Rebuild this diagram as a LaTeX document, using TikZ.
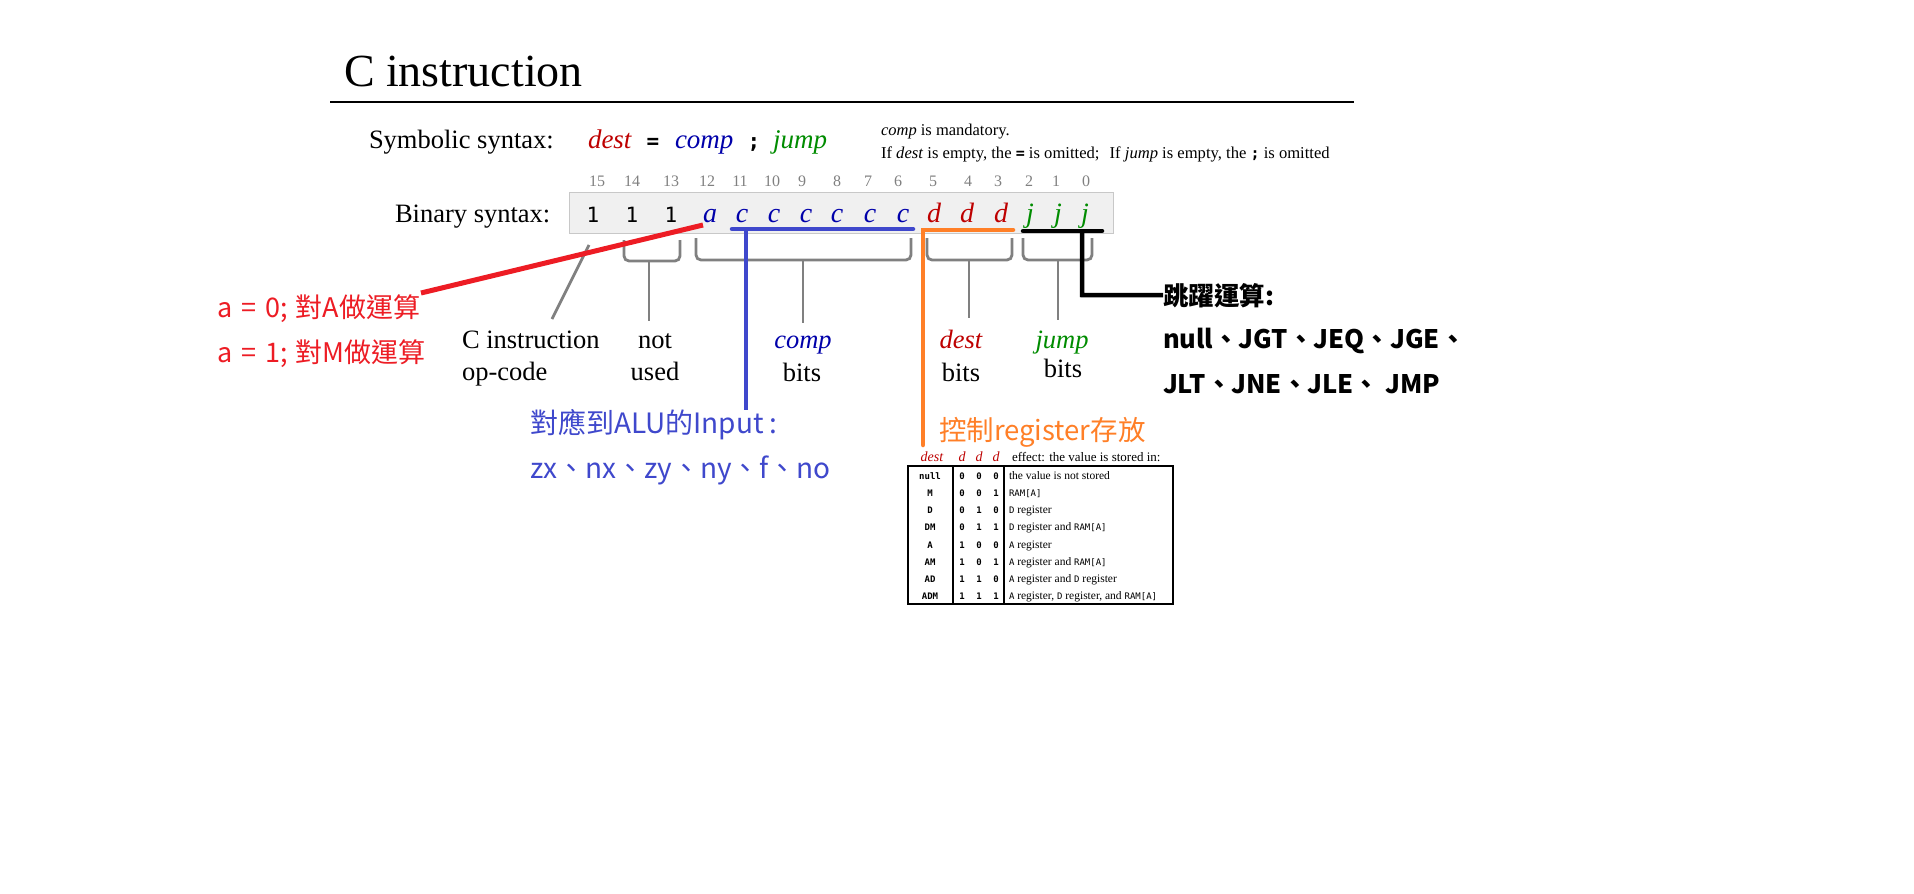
\documentclass[tikz,border=0pt]{standalone}
\usepackage{fontspec}
\setmainfont{Liberation Serif}
\setmonofont{DejaVu Sans Mono}
\newfontfamily\cjk{Noto Sans CJK TC}
\newcommand\myfs[1]{\fontsize{#1}{#1}\selectfont}
\newcommand\tm[1]{{\ttfamily\myfs{9}#1}}
\definecolor{destred}{RGB}{190,0,0}
\definecolor{compblue}{RGB}{0,0,170}
\definecolor{jumpgreen}{RGB}{0,140,0}
\definecolor{bitgray}{RGB}{128,128,128}
\definecolor{brgray}{RGB}{128,128,128}
\definecolor{boxfill}{RGB}{240,240,240}
\definecolor{boxborder}{RGB}{200,200,200}
\definecolor{linered}{RGB}{237,28,36}
\definecolor{lineblue}{RGB}{63,72,204}
\definecolor{lineorange}{RGB}{255,127,39}
\newcommand\tabrow[6]{%
  \pgfmathsetmacro\ry{466+17.25*#1+13}%
  \node[tmono] (m#1) at (930,\ry) {#2};
  \node[tmono] (ba#1) at (962,\ry) {#3};
  \node[tmono] (bb#1) at (979,\ry) {#4};
  \node[tmono] (bc#1) at (996,\ry) {#5};
  \node[teff] (e#1) at (1009,\ry) {#6};
}
\begin{document}
\begin{tikzpicture}[x=1pt,y=-1pt,
  lbl/.style={inner sep=0pt, outer sep=0pt},
  bitnum/.style={lbl, anchor=base, text=bitgray, font=\myfs{16}},
  bitone/.style={lbl, anchor=base, font=\ttfamily\myfs{21}},
  bitit/.style={lbl, anchor=base, font=\itshape\myfs{28}},
  serif/.style={lbl, font=\myfs{26.5}},
  brk/.style={draw=brgray, line width=2.8pt, rounded corners=5pt},
  stem/.style={draw=brgray, line width=2.8pt},
  cjkred/.style={lbl, anchor=base west, text=linered, font=\cjk\myfs{27}},
  cjkblue/.style={lbl, anchor=base west, text=lineblue, font=\cjk\myfs{28}},
  cjkblack/.style={lbl, anchor=base west, font=\cjk\bfseries\myfs{25.5}},
  tmono/.style={lbl, anchor=base, font=\ttfamily\bfseries\myfs{9}},
  teff/.style={lbl, anchor=base west, font=\myfs{11.5}},
  thead/.style={lbl, anchor=base, text=destred, font=\itshape\myfs{14}}
]
\path[use as bounding box, fill=white] (0,0) rectangle (1914,894);

% title
\node[lbl, anchor=base west, font=\myfs{46}] (title) at (344,86) {C instruction};
\coordinate (ruleL) at (330,102);
\coordinate (ruleR) at (1354,102);
\draw[line width=2.5pt] (ruleL) -- (ruleR);

% symbolic syntax
\node[serif, anchor=base west] (sym) at (369,148) {Symbolic syntax:};
\node[serif, anchor=base west, font=\itshape\myfs{27}, text=destred] (sdest) at (588,148) {dest};
\node[lbl, anchor=base, font=\ttfamily\bfseries\myfs{21}] (seq) at (653,148) {=};
\node[serif, anchor=base west, font=\itshape\myfs{27}, text=compblue] (scomp) at (675,148) {comp};
\node[lbl, anchor=base, font=\ttfamily\bfseries\myfs{21}] (ssemi) at (754,148) {;};
\node[serif, anchor=base west, font=\itshape\myfs{27}, text=jumpgreen] (sjump) at (773,148) {jump};

\node[lbl, anchor=base west, font=\myfs{16.5}] (note1) at (881,135) {\textit{comp} is mandatory.};
\node[lbl, anchor=base west, font=\myfs{16.6}] (note2) at (881,158) {If \textit{dest} is empty, the {\ttfamily\bfseries\myfs{15}=} is omitted;\hspace{6pt} If \textit{jump} is empty, the {\ttfamily\bfseries\myfs{15};} is omitted};

% binary syntax
\node[serif, anchor=base west] (bin) at (395,222) {Binary syntax:};
\node[draw=boxborder, fill=boxfill, line width=1.2pt, minimum width=544pt, minimum height=41pt, anchor=north west, inner sep=0pt] (box) at (569,192) {};

\foreach \n/\xx in {15/597,14/632,13/671,12/707,11/740,10/772,9/802,8/837,7/868,6/898,5/933,4/968,3/998,2/1029,1/1056,0/1086}
  \node[bitnum] (n\n) at (\xx,186) {\n};

\foreach \i/\xx in {1/593,2/632,3/671}
  \node[bitone] (one\i) at (\xx,222) {1};
\node[bitit, text=compblue] (ba) at (710,222) {a};
\foreach \i/\xx in {1/742,2/774,3/806,4/837,5/870,6/903}
  \node[bitit, text=compblue] (c\i) at (\xx,222) {c};
\foreach \i/\xx in {1/934,2/967,3/1001}
  \node[bitit, text=destred] (d\i) at (\xx,222) {d};
\foreach \i/\xx in {1/1030,2/1058,3/1085}
  \node[bitit, text=jumpgreen] (j\i) at (\xx,222) {j};

% gray brackets and labels
\node[serif, anchor=base west] (opc1) at (462,348) {C instruction};
\node[serif, anchor=base west] (opc2) at (462,380) {op-code};
\coordinate (opTop) at (589,245);
\coordinate (opBot) at (552,319);
\draw[stem] (opTop) -- (opBot);

\draw[brk] (624,240) -- (624,261) -- (680,261) -- (680,240);
\coordinate (nuTop) at (649,261);
\coordinate (nuBot) at (649,321);
\draw[stem] (nuTop) -- (nuBot);
\node[serif, anchor=base] (nu1) at (655,348) {not};
\node[serif, anchor=base] (nu2) at (655,380) {used};

\draw[brk] (696,238) -- (696,260) -- (911,260) -- (911,238);
\coordinate (cpTop) at (803,260);
\coordinate (cpBot) at (803,323);
\draw[stem] (cpTop) -- (cpBot);
\node[serif, anchor=base, font=\itshape\myfs{26.5}, text=compblue] (cp1) at (803,348) {comp};
\node[serif, anchor=base] (cp2) at (802,381) {bits};

\draw[brk] (927,238) -- (927,260) -- (1012,260) -- (1012,238);
\coordinate (dsTop) at (969,260);
\coordinate (dsBot) at (969,318);
\draw[stem] (dsTop) -- (dsBot);
\node[serif, anchor=base, font=\itshape\myfs{26.5}, text=destred] (ds1) at (961,348) {dest};
\node[serif, anchor=base] (ds2) at (961,381) {bits};

\draw[brk] (1023,238) -- (1023,260) -- (1092,260) -- (1092,238);
\coordinate (jpTop) at (1058,260);
\coordinate (jpBot) at (1058,320);
\draw[stem] (jpTop) -- (jpBot);
\node[serif, anchor=base, font=\itshape\myfs{26.5}, text=jumpgreen] (jp1) at (1062,348) {jump};
\node[serif, anchor=base] (jp2) at (1063,377) {bits};

% red annotation
\node[cjkred] (ra0) at (217,317) {a\hspace{9pt}=\hspace{9pt}0;\hspace{8pt}對A做運算};
\node[cjkred] (ra1) at (217,362) {a\hspace{9pt}=\hspace{9pt}1;\hspace{8pt}對M做運算};
\coordinate (redA) at (703,225);
\coordinate (redB) at (421,293);
\draw[linered, line width=5pt] (redA) -- (redB);

% blue annotation
\coordinate (bl1) at (732,229);
\coordinate (bl2) at (913,229);
\coordinate (blTop) at (746,229);
\coordinate (blBot) at (746,410);
\draw[lineblue, line width=4.5pt, line cap=round] (bl1) -- (bl2);
\draw[lineblue, line width=4.5pt] (blTop) -- (blBot);
\node[cjkblue] (alu1) at (530,433) {對應到ALU的Input :};
\node[cjkblue] (alu2) at (530,478) {zx、nx、zy、ny、f、no};

% orange annotation
\coordinate (orBot) at (923,445);
\coordinate (orTop) at (923,230);
\coordinate (orR) at (1013,230);
\draw[lineorange, line width=4.5pt, line cap=round] (orBot) -- (orTop) -- (orR);
\node[lbl, anchor=base west, text=lineorange, font=\cjk\myfs{27.5}] (reg) at (939,440) {控制register存放};

% black annotation
\node[cjkblack] (jl) at (1163,305) {跳躍運算:};
\node[cjkblack] (jl1) at (1163,348) {null、JGT、JEQ、JGE、};
\node[cjkblack] (jl2) at (1163,393) {JLT、JNE、JLE、 JMP};
\coordinate (bk1) at (1023,231);
\coordinate (bk2) at (1102,231);
\coordinate (bkTop) at (1082,231);
\coordinate (bkCorner) at (1082,295);
\draw[black, line width=4.5pt, line cap=round] (bk1) -- (bk2);
\draw[black, line width=4.5pt] (bkTop) -- (bkCorner) -- (jl.west);

% table
\node[thead] (th0) at (932,461) {dest};
\node[thead] (th1) at (962,461) {d};
\node[thead] (th2) at (979,461) {d};
\node[thead] (th3) at (996,461) {d};
\node[lbl, anchor=base west, font=\myfs{13}] (th4) at (1012,461) {effect: the value is stored in:};
\draw[line width=1.3pt] (908,466) rectangle (1173,604);
\draw[line width=1.1pt] (953,466) -- (953,604);
\draw[line width=1.1pt] (1004,466) -- (1004,604);
\tabrow{0}{null}{0}{0}{0}{the value is not stored}
\tabrow{1}{M}{0}{0}{1}{\tm{RAM[A]}}
\tabrow{2}{D}{0}{1}{0}{\tm{D} register}
\tabrow{3}{DM}{0}{1}{1}{\tm{D} register and \tm{RAM[A]}}
\tabrow{4}{A}{1}{0}{0}{\tm{A} register}
\tabrow{5}{AM}{1}{0}{1}{\tm{A} register and \tm{RAM[A]}}
\tabrow{6}{AD}{1}{1}{0}{\tm{A} register and \tm{D} register}
\tabrow{7}{ADM}{1}{1}{1}{\tm{A} register, \tm{D} register, and \tm{RAM[A]}}
\end{tikzpicture}
\end{document}
